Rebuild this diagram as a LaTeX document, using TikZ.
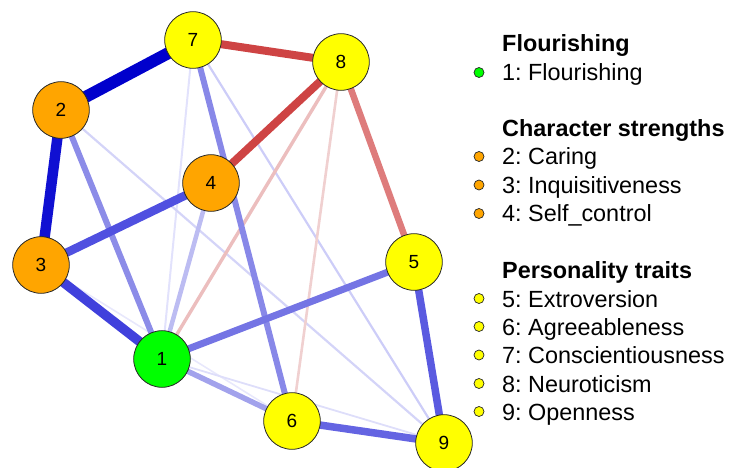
\documentclass[tikz,border=0pt]{standalone}
\usepackage{fontspec}
\setmainfont{Liberation Sans}
\frenchspacing
\begin{document}
\begin{tikzpicture}[x=1pt,y=-1pt,
  vert/.style={circle,draw=black!85,line width=0.8pt,minimum size=56.6pt,inner sep=0pt,font=\fontsize{19}{19}\selectfont},
  edge/.style={line width=#1},
  legtxt/.style={anchor=base west,inner sep=0pt,font=\fontsize{23.4}{23.4}\selectfont},
  leghead/.style={anchor=base west,inner sep=0pt,font=\fontsize{23.4}{23.4}\selectfont\bfseries},
  legdot/.style={circle,draw=black!85,line width=0.7pt,minimum size=10pt,inner sep=0pt}]
\useasboundingbox (0,0) rectangle (729,468);
\definecolor{cgreen}{HTML}{00FF00}
\definecolor{corange}{HTML}{FFA500}
\definecolor{cyellow}{HTML}{FFFF00}
% node coordinates
\coordinate (p1) at (162,359);
\coordinate (p2) at (61,110);
\coordinate (p3) at (41,265);
\coordinate (p4) at (211,183);
\coordinate (p5) at (414,262);
\coordinate (p6) at (292,421);
\coordinate (p7) at (193,40);
\coordinate (p8) at (341,62);
\coordinate (p9) at (444,443);
% edges
\draw[edge=1.6pt,color={rgb,255:red,232;green,232;blue,252}] (p3) -- (p6);
\draw[edge=1.8pt,color={rgb,255:red,222;green,222;blue,250}] (p1) -- (p9);
\draw[edge=2pt,color={rgb,255:red,226;green,226;blue,252}] (p7) -- (p1);
\draw[edge=2.2pt,color={rgb,255:red,205;green,205;blue,248}] (p7) -- (p9);
\draw[edge=2.2pt,color={rgb,255:red,212;green,212;blue,248}] (p2) -- (p9);
\draw[edge=2.6pt,color={rgb,255:red,240;green,208;blue,208}] (p8) -- (p6);
\draw[edge=3.4pt,color={rgb,255:red,236;green,190;blue,190}] (p8) -- (p1);
\draw[edge=4.5pt,color={rgb,255:red,188;green,188;blue,242}] (p4) -- (p1);
\draw[edge=5.5pt,color={rgb,255:red,162;green,162;blue,236}] (p1) -- (p6);
\draw[edge=6pt,color={rgb,255:red,140;green,140;blue,232}] (p2) -- (p1);
\draw[edge=6pt,color={rgb,255:red,136;green,136;blue,232}] (p7) -- (p6);
\draw[edge=6.5pt,color={rgb,255:red,222;green,124;blue,124}] (p8) -- (p5);
\draw[edge=7pt,color={rgb,255:red,116;green,116;blue,228}] (p1) -- (p5);
\draw[edge=7.5pt,color={rgb,255:red,100;green,100;blue,226}] (p6) -- (p9);
\draw[edge=7.5pt,color={rgb,255:red,90;green,90;blue,224}] (p5) -- (p9);
\draw[edge=8pt,color={rgb,255:red,206;green,68;blue,68}] (p7) -- (p8);
\draw[edge=8pt,color={rgb,255:red,206;green,68;blue,68}] (p8) -- (p4);
\draw[edge=8.5pt,color={rgb,255:red,80;green,80;blue,224}] (p3) -- (p4);
\draw[edge=9.5pt,color={rgb,255:red,64;green,64;blue,220}] (p3) -- (p1);
\draw[edge=10.5pt,color={rgb,255:red,16;green,16;blue,210}] (p2) -- (p3);
\draw[edge=12pt,color={rgb,255:red,0;green,0;blue,204}] (p2) -- (p7);
% nodes
\node[vert,fill=cgreen] (n1) at (p1) {1};
\node[vert,fill=corange] (n2) at (p2) {2};
\node[vert,fill=corange] (n3) at (p3) {3};
\node[vert,fill=corange] (n4) at (p4) {4};
\node[vert,fill=cyellow] (n5) at (p5) {5};
\node[vert,fill=cyellow] (n6) at (p6) {6};
\node[vert,fill=cyellow] (n7) at (p7) {7};
\node[vert,fill=cyellow] (n8) at (p8) {8};
\node[vert,fill=cyellow] (n9) at (p9) {9};
% legend
\node[leghead] (h1) at (502,52) {Flourishing};
\node[legtxt] (l1) at (502,81) {1: Flourishing};
\node[legdot,fill=cgreen] (d1) at (479,72.5) {};
\node[leghead] (h2) at (502,137) {Character strengths};
\node[legtxt] (l2) at (502,165) {2: Caring};
\node[legdot,fill=corange] (d2) at (479,156.5) {};
\node[legtxt] (l3) at (502,193.5) {3: Inquisitiveness};
\node[legdot,fill=corange] (d3) at (479,185) {};
\node[legtxt] (l4) at (502,222) {4: Self\_control};
\node[legdot,fill=corange] (d4) at (479,213.5) {};
\node[leghead] (h3) at (502,278.5) {Personality traits};
\node[legtxt] (l5) at (502,307) {5: Extroversion};
\node[legdot,fill=cyellow] (d5) at (479,298.5) {};
\node[legtxt] (l6) at (502,335) {6: Agreeableness};
\node[legdot,fill=cyellow] (d6) at (479,326.5) {};
\node[legtxt] (l7) at (502,363.5) {7: Conscientiousness};
\node[legdot,fill=cyellow] (d7) at (479,355) {};
\node[legtxt] (l8) at (502,392) {8: Neuroticism};
\node[legdot,fill=cyellow] (d8) at (479,383.5) {};
\node[legtxt] (l9) at (502,420) {9: Openness};
\node[legdot,fill=cyellow] (d9) at (479,411.5) {};
\end{tikzpicture}
\end{document}
